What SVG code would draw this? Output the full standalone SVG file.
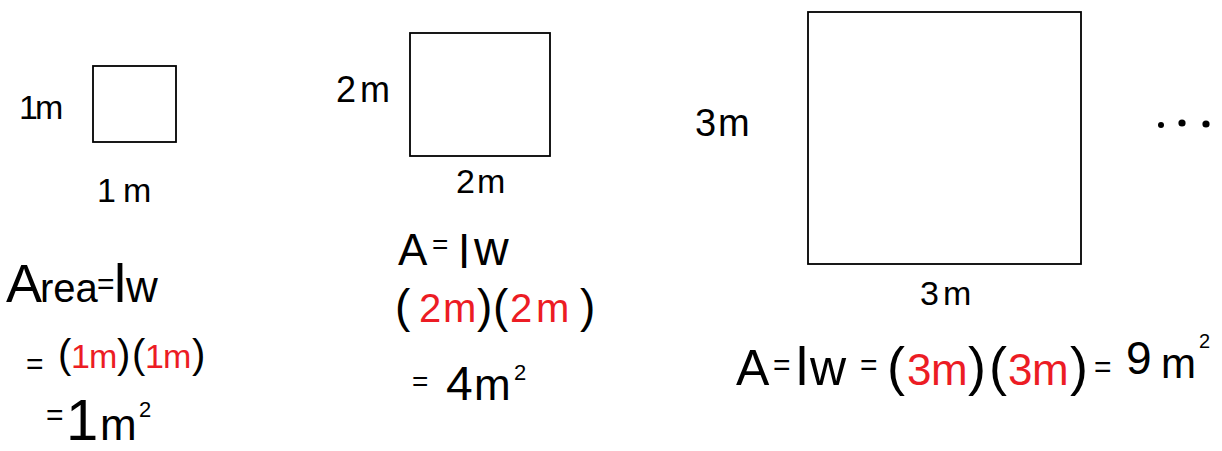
<svg xmlns="http://www.w3.org/2000/svg" width="1222" height="451" viewBox="0 0 1222 451">
<style>
  .sq{fill:#fff;stroke:#000;stroke-width:1.8}
  text{font-family:"Liberation Sans","Open Sans",sans-serif;fill:#000}
  .r{fill:#ec1c24}
  .dot{fill:#000}
</style>
<rect width="1222" height="451" fill="#fff"/>

<g id="square-1">
  <rect class="sq" x="93" y="66" width="83" height="76"/>
  <text font-size="34" x="19 35" y="119">1m</text>
  <text font-size="34" x="97 123" y="202">1m</text>
</g>

<g id="square-2">
  <rect class="sq" x="410" y="33" width="140" height="123"/>
  <text font-size="36" x="336 360" y="102">2m</text>
  <text font-size="34" x="456 477" y="193">2m</text>
</g>

<g id="square-3">
  <rect class="sq" x="808" y="12" width="273" height="252"/>
  <text font-size="38" x="695 718" y="136">3m</text>
  <text font-size="34" x="920 943" y="305">3m</text>
</g>

<g id="ellipsis">
  <circle class="dot" cx="1161" cy="125" r="3"/>
  <circle class="dot" cx="1182" cy="123" r="3.6"/>
  <circle class="dot" cx="1206" cy="124" r="3.6"/>
</g>

<g id="formula-1">
  <text y="302"><tspan font-size="54" x="6">A</tspan><tspan font-size="40" x="40">rea</tspan><tspan font-size="30" x="97" y="294">=</tspan><tspan font-size="54" x="114" y="302">l</tspan><tspan font-size="44" x="126">w</tspan></text>
  <text y="367"><tspan font-size="30" x="26" y="374">=</tspan><tspan font-size="40" x="58" y="368">(</tspan><tspan class="r" font-size="34" x="71 89">1m</tspan><tspan font-size="40" x="117">)</tspan><tspan font-size="40" x="132">(</tspan><tspan class="r" font-size="34" x="145 163">1m</tspan><tspan font-size="40" x="192">)</tspan></text>
  <text y="440"><tspan font-size="30" x="46" y="425">=</tspan><tspan font-size="58" x="66" y="440">1</tspan><tspan font-size="44" x="100">m</tspan></text>
  <text font-size="22" x="139" y="417">2</text>
</g>

<g id="formula-2">
  <text y="265"><tspan font-size="44" x="398">A</tspan><tspan font-size="28" x="432" y="254">=</tspan><tspan font-size="46" x="459" y="268">l</tspan><tspan font-size="48" x="474" y="265">w</tspan></text>
  <text y="322"><tspan font-size="46" x="395">(</tspan><tspan class="r" font-size="40" x="419 443">2m</tspan><tspan font-size="46" x="477">)</tspan><tspan font-size="46" x="493">(</tspan><tspan class="r" font-size="40" x="510 536">2m</tspan><tspan font-size="46" x="580">)</tspan></text>
  <text y="400"><tspan font-size="28" x="412" y="391">=</tspan><tspan font-size="48" x="446" y="400">4</tspan><tspan font-size="44" x="474">m</tspan></text>
  <text font-size="22" x="514" y="380">2</text>
</g>

<g id="formula-3">
  <text y="385"><tspan font-size="50" x="736">A</tspan><tspan font-size="30" x="773" y="375">=</tspan><tspan font-size="54" x="796" y="385">l</tspan><tspan font-size="50" x="810">w</tspan><tspan font-size="30" x="860" y="375">=</tspan><tspan font-size="54" x="887" y="385">(</tspan><tspan class="r" font-size="44" x="907 931">3m</tspan><tspan font-size="54" x="968">)</tspan><tspan font-size="54" x="989">(</tspan><tspan class="r" font-size="44" x="1008 1032">3m</tspan><tspan font-size="54" x="1070">)</tspan><tspan font-size="30" x="1094" y="377">=</tspan><tspan font-size="46" x="1126" y="374">9</tspan><tspan font-size="42" x="1161" y="378">m</tspan></text>
  <text font-size="20" x="1199" y="348">2</text>
</g>
</svg>
